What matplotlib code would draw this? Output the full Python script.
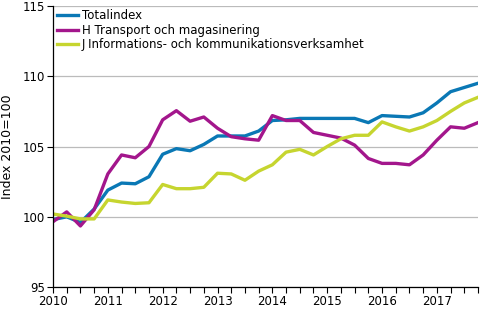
import numpy as np
import matplotlib.pyplot as plt
from matplotlib.ticker import MultipleLocator

# quarterly index values, 2010Q1 - 2017Q4
quarters = np.arange(2010, 2018, 0.25)

total = [99.8, 100.0, 99.6, 100.55, 101.9, 102.4, 102.35, 102.85,
         104.45, 104.85, 104.7, 105.15, 105.75, 105.75, 105.75, 106.1,
         106.85, 106.9, 107.0, 107.0, 107.0, 107.0, 107.0, 106.7,
         107.2, 107.15, 107.1, 107.4, 108.1, 108.9, 109.2, 109.5]

transport = [99.65, 100.35, 99.35, 100.5, 103.05, 104.4, 104.2, 105.0,
             106.9, 107.55, 106.8, 107.1, 106.3, 105.7, 105.55, 105.45,
             107.2, 106.85, 106.85, 106.0, 105.8, 105.6, 105.1, 104.15,
             103.8, 103.8, 103.7, 104.4, 105.45, 106.4, 106.3, 106.7]

info = [100.2, 100.05, 99.85, 99.85, 101.2, 101.05, 100.95, 101.0,
        102.3, 102.0, 102.0, 102.1, 103.1, 103.05, 102.6, 103.25,
        103.7, 104.6, 104.8, 104.4, 105.0, 105.55, 105.8, 105.8,
        106.75, 106.4, 106.1, 106.4, 106.85, 107.5, 108.1, 108.5]

labels = ["Totalindex",
          "H Transport och magasinering",
          "J Informations- och kommunikationsverksamhet"]
colors = ["#0a78b5", "#a3168c", "#c6d52f"]

fig = plt.figure(figsize=(5, 3.3), dpi=100)
ax = fig.add_axes([0.106, 0.13, 0.85, 0.852])

for series, lab, col in zip([total, transport, info], labels, colors):
    ax.plot(quarters, series, color=col, lw=2.4, label=lab, solid_joinstyle="round")

ax.set_xlim(2010, 2017.75)
ax.set_ylim(95, 115)
ax.set_yticks([95, 100, 105, 110, 115])
ax.xaxis.set_major_locator(MultipleLocator(1))
ax.xaxis.set_minor_locator(MultipleLocator(0.25))
ax.xaxis.set_major_formatter(lambda v, p: f"{int(v)}")
ax.tick_params(axis="x", which="both", length=4, width=0.8, labelsize=8.5, pad=2)
ax.tick_params(axis="y", length=4, width=0.8, labelsize=8.5, pad=2)

ax.grid(axis="y", color="#bbbbbb", lw=0.9)
ax.set_axisbelow(True)
for s in ["top", "right"]:
    ax.spines[s].set_visible(False)
ax.spines["left"].set_linewidth(0.9)
ax.spines["bottom"].set_linewidth(0.9)

ax.set_ylabel("Index 2010=100", fontsize=9, labelpad=6)
ax.legend(loc="upper left", frameon=False, fontsize=8.5, handlelength=1.8,
          handletextpad=0.35, labelspacing=0.12, borderaxespad=0.1,
          borderpad=0.2, bbox_to_anchor=(0.0, 1.0))

plt.savefig("out.png", dpi=100)
